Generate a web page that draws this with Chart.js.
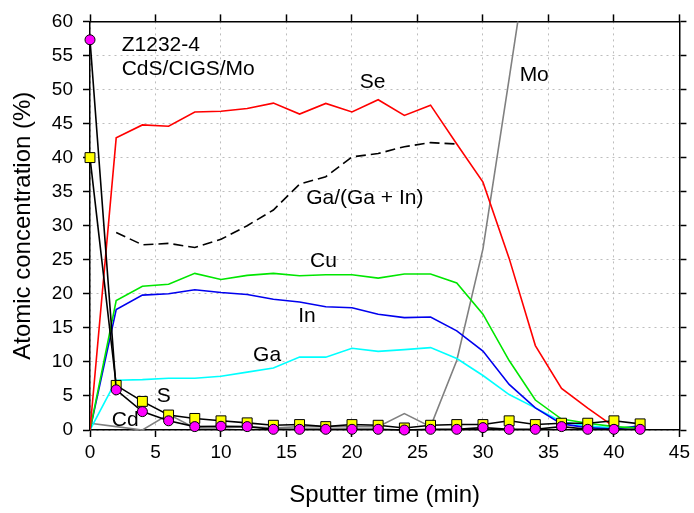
<!DOCTYPE html>
<html>
<head>
<meta charset="utf-8">
<script src="https://cdn.jsdelivr.net/npm/chart.js@4/dist/chart.umd.min.js"></script>
<style>
  html, body { margin: 0; padding: 0; background: #fff; }
  #contenedor { width: 694px; height: 513px; }
</style>
</head>
<body>
<div id="contenedor"><canvas id="grafico" width="694" height="513"></canvas></div>
<script>
// tiempos de sputter (min)
const tiempos = [0, 2, 4, 6, 8, 10, 12, 14, 16, 18, 20, 22, 24, 26, 28, 30, 32, 34, 36, 38, 40, 42];

// concentraciones atómicas (%)
const cd   = [57.3, 5.9, 2.7, 1.35, 0.5, 0.55, 0.5, 0.1, 0.1, 0.1, 0.1, 0.1, 0.0, 0.1, 0.1, 0.35, 0.1, 0.1, 0.5, 0.1, 0.1, 0.1];
const s    = [40.0, 6.55, 4.2, 2.2, 1.7, 1.35, 1.05, 0.7, 0.8, 0.5, 0.8, 0.7, 0.3, 0.7, 0.8, 0.8, 1.35, 0.8, 1.0, 1.0, 1.35, 0.9];
const se   = [0, 42.9, 44.8, 44.6, 46.7, 46.8, 47.2, 48.0, 46.4, 47.95, 46.7, 48.5, 46.2, 47.7, 42.0, 36.4, 25.2, 12.4, 6.1, 3.2, 0.5];
const cu   = [0, 19.0, 21.1, 21.4, 23.0, 22.1, 22.7, 23.0, 22.65, 22.8, 22.8, 22.3, 22.9, 22.9, 21.6, 17.0, 10.2, 4.4, 1.6, 1.0, 0.5, 0.3];
const inn  = [0, 17.7, 19.8, 20.0, 20.6, 20.2, 19.9, 19.2, 18.8, 18.1, 17.95, 17.0, 16.5, 16.6, 14.55, 11.6, 6.7, 3.25, 0.9, 0.35, 0.15, 0.6];
const ga   = [0, 7.3, 7.4, 7.6, 7.6, 7.9, 8.5, 9.1, 10.7, 10.7, 12.0, 11.55, 11.8, 12.1, 10.5, 8.0, 5.2, 3.25, 1.2, 0.6, 0.3, 0.4];
const mo   = [1.0, 0.5, 0.0, 2.3, 0.3, 0.3, 0.5, 0.3, 0.5, 0.5, 0.5, 0.5, 2.4, 0.5, 10.2, 26.6, 51.6, 77];
const gaGaIn = [null, 29.0, 27.2, 27.4, 26.8, 28.0, 30.0, 32.3, 36.1, 37.2, 40.1, 40.6, 41.6, 42.2, 42.0];

// textos dentro del gráfico: [texto, x (min), y (%)]
const etiquetas = [
  ["Z1232-4", 2.42, 55.6],
  ["CdS/CIGS/Mo", 2.42, 52.2],
  ["Se", 20.6, 50.2],
  ["Mo", 32.8, 51.2],
  ["Ga/(Ga + In)", 16.5, 33.25],
  ["Cu", 16.8, 24.0],
  ["In", 15.9, 15.8],
  ["Ga", 12.45, 10.2],
  ["S", 5.09, 4.12],
  ["Cd", 1.66, 0.58]
];

const fuente = '"Liberation Sans", Arial, sans-serif';

const pluginEtiquetas = {
  id: "etiquetas",
  afterDatasetsDraw(chart) {
    const { ctx, scales: { x, y } } = chart;
    ctx.save();
    ctx.font = "21px " + fuente;
    ctx.fillStyle = "#000";
    ctx.textBaseline = "alphabetic";
    ctx.textAlign = "left";
    etiquetas.forEach(([texto, tx, ty]) => {
      ctx.fillText(texto, x.getPixelForValue(tx), y.getPixelForValue(ty));
    });
    ctx.restore();
  }
};

function linea(label, data, color, extra) {
  return Object.assign({
    label, data,
    borderColor: color,
    backgroundColor: color,
    borderWidth: 1.6,
    pointRadius: 0,
    tension: 0,
    fill: false
  }, extra || {});
}

const grillaComun = { color: "#bdbdbd", lineWidth: 1, tickColor: "#000", tickWidth: 1.5, tickLength: 7 };

new Chart(document.getElementById("grafico"), {
  type: "line",
  data: {
    labels: tiempos,
    datasets: [
      linea("Cd", cd, "#000", { clip: false, pointStyle: "circle", pointRadius: 5, pointBackgroundColor: "#ff00ff", pointBorderColor: "#000", pointBorderWidth: 1 }),
      linea("S", s, "#000", { clip: false, pointStyle: "rect", pointRadius: 7, pointBackgroundColor: "#ffff00", pointBorderColor: "#000", pointBorderWidth: 1 }),
      linea("Ga/(Ga + In)", gaGaIn, "#000", { borderDash: [10, 5] }),
      linea("Se", se, "#ff0000"),
      linea("Cu", cu, "#00e600"),
      linea("In", inn, "#0000ee"),
      linea("Ga", ga, "#00ffff"),
      linea("Mo", mo, "#808080")
    ]
  },
  options: {
    responsive: false,
    animation: false,
    layout: { padding: 0 },
    plugins: { legend: { display: false }, tooltip: { enabled: false } },
    scales: {
      x: {
        type: "linear", position: "bottom", min: 0, max: 45,
        ticks: { stepSize: 5, color: "#000", font: { size: 19, family: fuente }, padding: 4, maxRotation: 0, autoSkip: false },
        grid: grillaComun,
        border: { color: "#000", width: 1.5, dash: [2, 4] },
        title: { display: true, text: "Sputter time (min)", color: "#000", font: { size: 24, family: fuente }, padding: { top: 0, bottom: 3 } },
        afterFit: sc => { sc.height = 83; }
      },
      x2: {
        type: "linear", position: "top", min: 0, max: 45,
        ticks: { stepSize: 5, display: false },
        grid: Object.assign({}, grillaComun, { drawOnChartArea: false }),
        border: { color: "#000", width: 1.5 },
        afterFit: sc => { sc.height = 18; }
      },
      y: {
        type: "linear", position: "left", min: 0, max: 60,
        ticks: { stepSize: 5, color: "#000", font: { size: 19, family: fuente }, padding: 10 },
        grid: grillaComun,
        border: { color: "#000", width: 1.5, dash: [2, 4] },
        title: { display: true, text: "Atomic concentration (%)", color: "#000", font: { size: 24, family: fuente }, padding: { top: 9, bottom: 0 } },
        afterFit: sc => { sc.width = 90; }
      },
      y2: {
        type: "linear", position: "right", min: 0, max: 60,
        ticks: { stepSize: 5, display: false },
        grid: Object.assign({}, grillaComun, { drawOnChartArea: false }),
        border: { color: "#000", width: 1.5 },
        afterFit: sc => { sc.width = 14; }
      }
    }
  },
  plugins: [pluginEtiquetas]
});
</script>
</body>
</html>
